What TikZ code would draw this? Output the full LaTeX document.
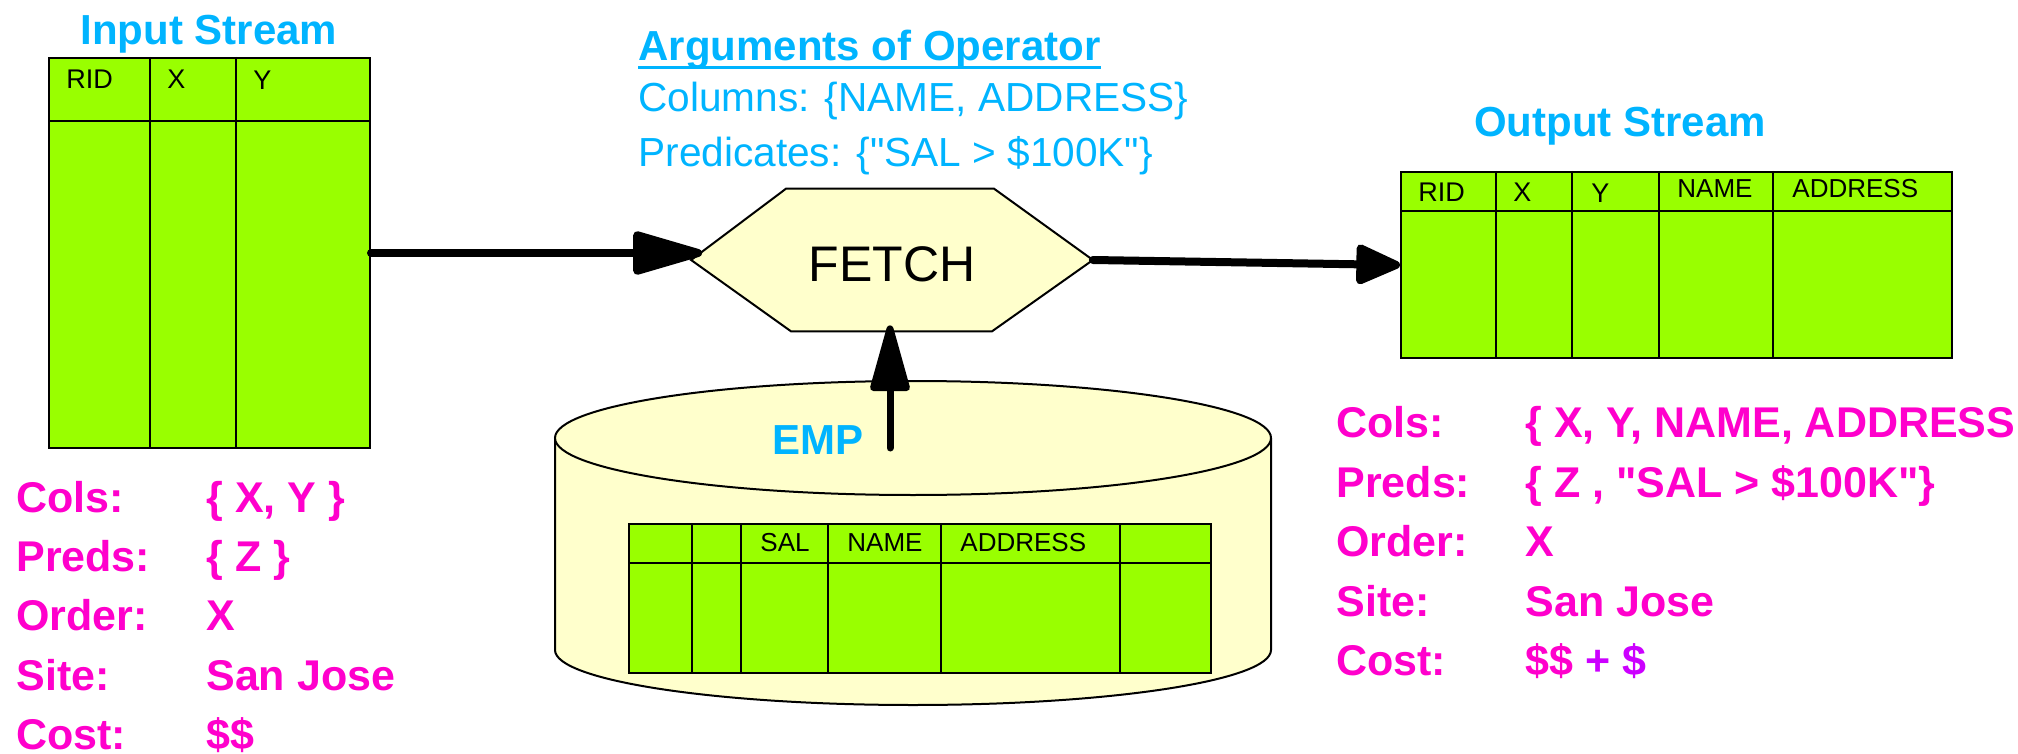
\documentclass[tikz,border=0pt]{standalone}
\usepackage{fontspec}
\setmainfont{Liberation Sans}
\usetikzlibrary{arrows.meta,calc}
\definecolor{cellgreen}{HTML}{99FF00}
\definecolor{paleyellow}{HTML}{FFFFCC}
\definecolor{titlecyan}{HTML}{00B4FF}
\definecolor{statmagenta}{HTML}{FF00CC}
\definecolor{costpurple}{HTML}{CC00FF}
% straight double quote, set as a glyph so no ligature mapping curls it
\newcommand{\straightdq}{\XeTeXglyph\XeTeXcharglyph"22\relax}
\begin{document}
\begin{tikzpicture}[x=0.5pt,y=-0.5pt,
  tablebox/.style={draw=black,line width=1pt,fill=cellgreen,anchor=north west,inner sep=0pt},
  gridline/.style={line width=1pt},
  hdr/.style={anchor=base west,inner sep=0pt,font=\fontsize{13.5}{16}\selectfont},
  hdrsmall/.style={anchor=base west,inner sep=0pt,font=\fontsize{13}{15}\selectfont},
  heading/.style={anchor=base,inner sep=0pt,text=titlecyan,font=\bfseries\fontsize{21}{25}\selectfont},
  argtext/.style={anchor=base west,inner sep=0pt,text=titlecyan,font=\fontsize{20.3}{24}\selectfont},
  stat/.style={anchor=base west,inner sep=0pt,text=statmagenta,font=\bfseries\fontsize{21.5}{25}\selectfont},
  flow/.style={line width=4pt,line cap=round}
]
\useasboundingbox (0,0) rectangle (2018,754);

% ---------- input stream ----------
\node[heading] (intitle) at (209,45) {Input Stream};
\node[tablebox,minimum width=160.5pt,minimum height=195pt] (intable) at (48,57) {};
\draw[gridline] (48,121) -- (369,121);
\draw[gridline] (150,57) -- (150,447);
\draw[gridline] (236,57) -- (236,447);
\node[hdr] (inrid) at (66,89) {RID};
\node[hdr] (inx) at (167,89) {X};
\node[hdr] (iny) at (253,90) {Y};

% ---------- operator arguments ----------
\node[argtext,font=\bfseries\fontsize{21}{25}\selectfont] (argtitle) at (638,61) {Arguments of Operator};
\draw[titlecyan,line width=1.5pt] ($(argtitle.base west)+(0,7)$) -- ($(argtitle.base east)+(0,7)$);
\node[argtext] (argcols) at (638,112) {Columns: \{NAME, ADDRESS\}};
\node[argtext] (argpreds) at (638,167) {Predicates: \{\straightdq SAL > \$100K\straightdq\}};

% ---------- FETCH operator ----------
\node[minimum width=200.5pt,minimum height=71pt,inner sep=0pt] (fetch) at (892,260) {};
\draw[line width=1pt,fill=paleyellow,line join=miter]
  (fetch.west) -- ($(fetch.north west)+(95,0)$) -- ($(fetch.north east)+(-99,0)$)
  -- (fetch.east) -- ($(fetch.south east)+(-101,0)$) -- ($(fetch.south west)+(100,0)$) -- cycle;
\node[inner sep=0pt,font=\fontsize{25}{30}\selectfont] (fetchlabel) at ($(fetch.center)+(0,4)$) {FETCH};

% ---------- EMP relation ----------
\fill[paleyellow] (555,438) -- (555,650)
  arc[start angle=180,end angle=360,x radius=179pt,y radius=27.5pt] -- (1271,438) -- cycle;
\draw[line width=1pt] (555,438) -- (555,650)
  arc[start angle=180,end angle=360,x radius=179pt,y radius=27.5pt] -- (1271,438);
\draw[line width=1pt,fill=paleyellow] (913,438) ellipse[x radius=179pt,y radius=28.5pt];
\node[anchor=base west,inner sep=0pt,text=titlecyan,font=\bfseries\fontsize{21}{25}\selectfont] (emplabel) at (772,454) {EMP};
\node[tablebox,minimum width=291pt,minimum height=74.5pt] (emptable) at (628,523) {};
\draw[gridline] (628,563) -- (1210,563);
\foreach \cx in {692,741,828,941,1120}
  \draw[gridline] (\cx,523) -- (\cx,672);
\node[hdrsmall] (empsal) at (760,551) {SAL};
\node[hdrsmall] (empname) at (847,551) {NAME};
\node[hdrsmall] (empaddr) at (960,551) {ADDRESS};
\coordinate (empsrc) at (890,448);

% ---------- output stream ----------
\node[heading] (outtitle) at (1620,137) {Output Stream};
\node[tablebox,minimum width=275.5pt,minimum height=93pt] (outtable) at (1400,171) {};
\draw[gridline] (1400,211) -- (1951,211);
\foreach \cx in {1496,1572,1659,1773}
  \draw[gridline] (\cx,171) -- (\cx,357);
\node[hdr] (outrid) at (1418,202) {RID};
\node[hdr] (outx) at (1513,202) {X};
\node[hdr] (outy) at (1591,203) {Y};
\node[hdrsmall] (outname) at (1677,198) {NAME};
\node[hdrsmall] (outaddr) at (1792,198) {ADDRESS};

% ---------- data flow ----------
\draw[flow,-{Triangle[length=40pt,width=22pt,round]}]
  (intable.east) -- ($(intable.east -| fetch.west)+(11,0)$);
\draw[flow,-{Triangle[length=25pt,width=21pt,round]}]
  (fetch.east) -- (outtable.west);
\draw[flow,line width=3.5pt,-{Triangle[length=38pt,width=20pt,round]}]
  (empsrc) -- ($(empsrc |- fetch.south)+(0,-6)$);

% ---------- input properties ----------
\node[stat] (inkcols) at (16,512) {Cols:};
\node[stat] (invcols) at (206,512) {\{ X, Y \}};
\node[stat] (inkpreds) at (16,571) {Preds:};
\node[stat] (invpreds) at (206,571) {\{ Z \}};
\node[stat] (inkorder) at (16,630) {Order:};
\node[stat] (invorder) at (206,630) {X};
\node[stat] (inksite) at (16,690) {Site:};
\node[stat] (invsite) at (206,690) {San Jose};
\node[stat] (inkcost) at (16,749) {Cost:};
\node[stat] (invcost) at (206,749) {\$\$};

% ---------- output properties ----------
\node[stat] (outkcols) at (1336,437) {Cols:};
\node[stat] (outvcols) at (1525,437) {\{ X, Y, NAME, ADDRESS \}};
\node[stat] (outkpreds) at (1336,497) {Preds:};
\node[stat] (outvpreds) at (1525,497) {\{ Z , \straightdq SAL > \$100K\straightdq\}};
\node[stat] (outkorder) at (1336,556) {Order:};
\node[stat] (outvorder) at (1525,556) {X};
\node[stat] (outksite) at (1336,616) {Site:};
\node[stat] (outvsite) at (1525,616) {San Jose};
\node[stat] (outkcost) at (1336,675) {Cost:};
\node[stat] (outvcost) at (1525,675) {\$\$ \textcolor{costpurple}{+ \$}};
\end{tikzpicture}
\end{document}
